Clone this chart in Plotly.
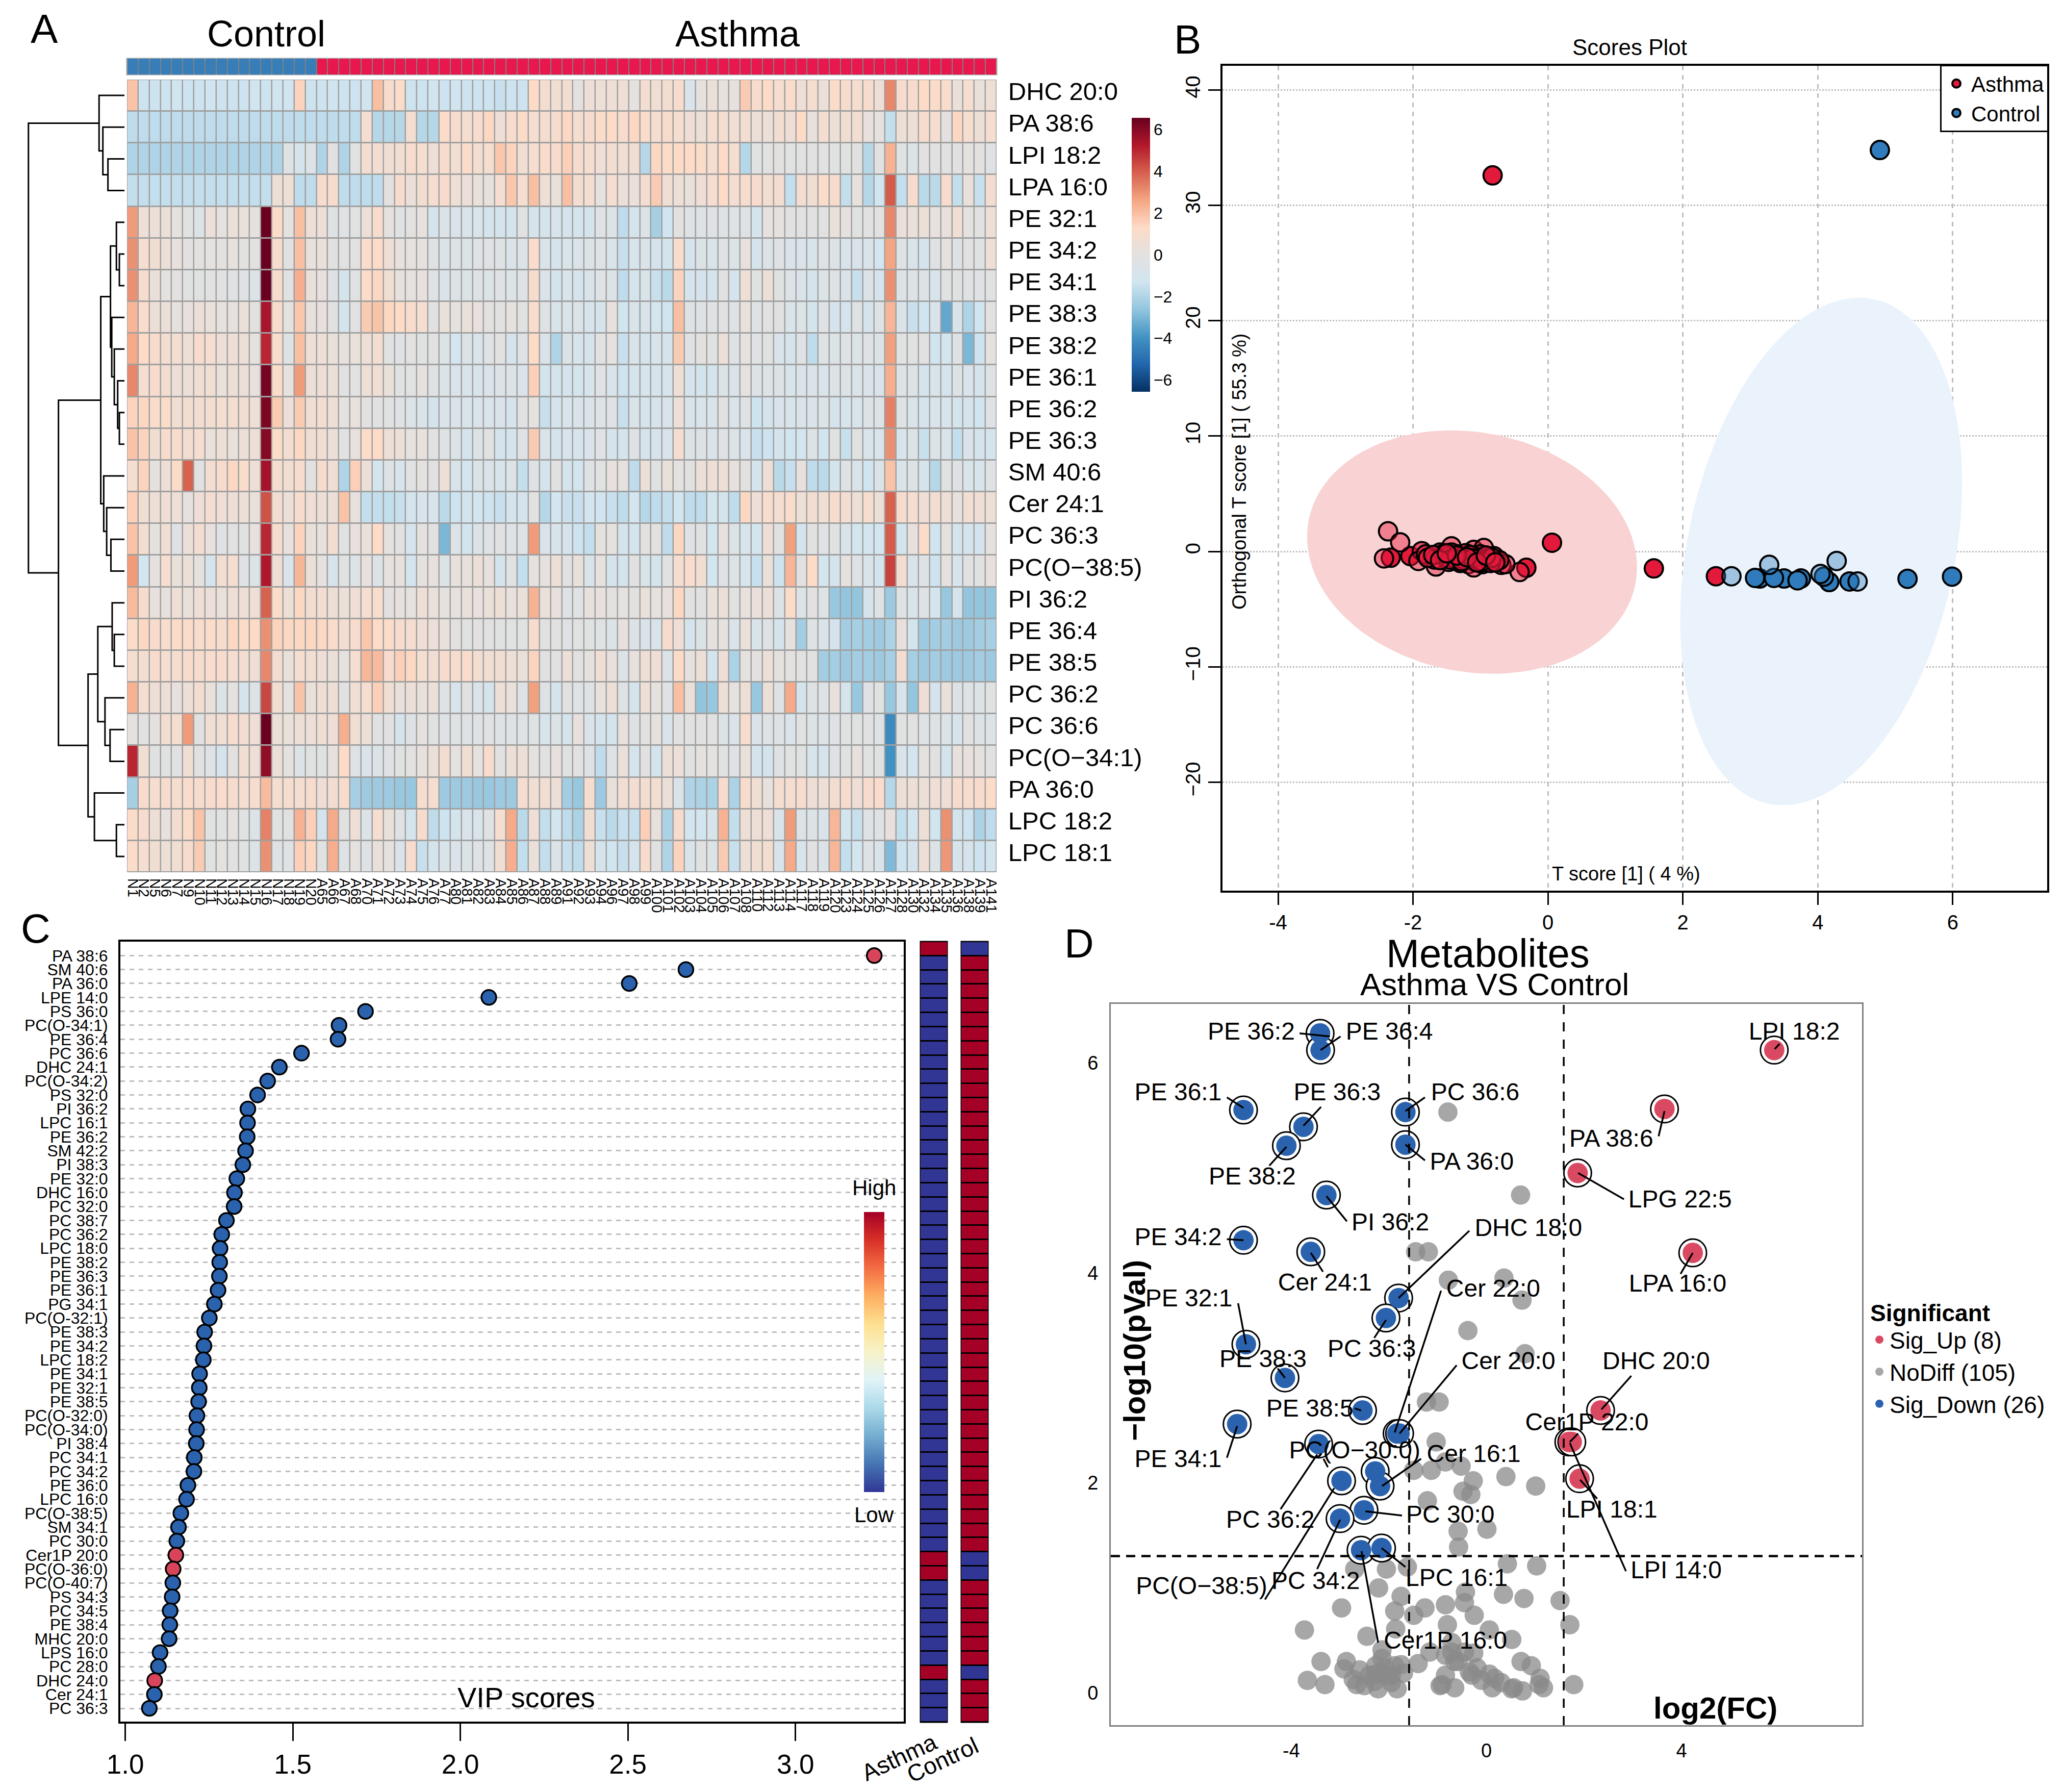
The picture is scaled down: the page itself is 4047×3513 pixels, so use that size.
import plotly.graph_objects as go

W, H = 4047, 3513
OFF = 8  # the page body adds this much on the left and top
FONT = "Liberation Sans"

# ---------- panel A : heatmap ----------
row_names = ["DHC 20:0", "PA 38:6", "LPI 18:2", "LPA 16:0", "PE 32:1", "PE 34:2", "PE 34:1", "PE 38:3", "PE 38:2",
             "PE 36:1", "PE 36:2", "PE 36:3", "SM 40:6", "Cer 24:1", "PC 36:3", "PC(O\u221238:5)", "PI 36:2", "PE 36:4",
             "PE 38:5", "PC 36:2", "PC 36:6", "PC(O\u221234:1)", "PA 36:0", "LPC 18:2", "LPC 18:1"]

control_ids = [1, 2, 5, 6, 7, 9, 10, 11, 12, 13, 14, 15, 16, 17, 18, 19, 20]
asthma_ids = [65, 66, 67, 68, 70, 71, 72, 73, 74, 75, 76, 77, 80, 81, 82, 83, 84, 85, 86, 87, 88, 89,
              91, 92, 93, 94, 96, 97, 98, 99, 100, 101, 102, 103, 104, 105, 106, 107, 108,
              110, 112, 113, 114, 117, 118, 119, 120, 123, 124, 125, 126, 127, 128,
              130, 132, 134, 135, 136, 138, 139, 141]

r_dhc200 = [1.9,-1.4,-1.4,-1.4,-1.3,-1.4,-1.4,-1.3,-1.4,-1.4,-1.4,-1.3,-1.4,-1.3,-1.3,1.5,-1.4,-1.4,-1.3,-1.4,-1.4,-1.3,2.0,1.0,1.2,-1.4,-1.4,-1.3,-1.4,-1.3,-1.4,-1.4,-1.4,-1.5,-1.4,-1.4,1.3,.8,.7,.8,0,.6,.5,.6,
            .6,.1,.8,.7,.8,1,-.8,.1,.4,.2,.2,1.7,1,1.3,.9,1.1,.6,.9,.4,1.2,1,.9,1,.6,3.2,1,1,1.3,1.2,1.1,.3,.9,.3,.6]
r_pa386 = [-1.7,-1.7,-1.7,-1.7,-1.7,-1.7,-1.7,-1.7,-1.7,-1.7,-1.7,-1.7,-1.7,-1.7,-1.7,-1.7,-1.7,-1.7,-1.7,-1.7,-1.7,.9,-1.9,-1.9,-1.9,.8,-1.9,-1.9,1.2,1,.9,1,1.4,.5,1,1.2,.9,.8,1,1.4,.9,1,1.2,1.3,
           1,1.4,1.1,.9,1,.9,.6,.4,.9,.9,.7,.8,.4,.4,.8,.6,1.3,.2,.8,.5,.7,.8,.2,.1,-1.6,.5,.5,1,.9,0,1.4,.9,.5,.9]
r_lpi182 = [-2,-2,-2,-2,-2,-2,-2,-2,-2,-2,-2,-2,-2,-2,-.3,-1,-.5,-2,-.1,-2,-.2,.8,.8,.7,.7,1,.9,.6,1,.7,1.2,.8,.9,1.8,1.5,.7,.9,1.1,1,1.6,1,.9,.6,.8,
            .7,.7,-1.9,1.4,1.2,1.3,1.3,1.2,.9,1.3,.9,-1.9,-.2,-.1,0,-.2,-.1,-.2,-.1,-.2,-.2,-.1,-1.9,-.1,2.3,-.2,-.5,-.1,-.1,-.1,-.1,.1,0,-.3]
r_lpa160 = [-1.6,-1.6,-1.6,-1.6,-1.6,-1.6,-1.6,-1.6,-1.6,-1.6,-1.6,-1.6,-1.6,.5,.5,-1.7,-1.7,1,1,-1.7,-1.7,-1.7,-1.7,0,1,.4,.8,.9,1,.6,.4,.3,.2,.9,1.8,.9,2,.5,.3,2,.8,.9,.1,.9,
            .4,.4,.8,1.7,.7,.5,.3,.6,.9,1.3,.8,1,1,.8,.8,-1.6,.8,.7,1.2,1,-1.6,.2,-1.9,-1.3,4,-1.6,1,-1.8,-1.8,1,-1.6,.3,-1.5,.8]
r_pe321 = [2.8,.6,.4,.4,.1,-.2,-.5,.4,.1,.4,.3,.1,6.5,1.2,.1,2,.5,.5,-.3,-.3,-.2,.4,1,.1,-.3,0,.2,-1,-.5,-.7,-.8,-.8,-1.1,-1,-1.1,-.2,-1,-1.1,-.9,-1,-1.1,-1,-.4,-.5,
           -1.7,-1,-.5,-2.2,-1.3,0,-.4,-.4,-.4,-.4,-.4,-.3,-1,.1,.1,-.1,-.1,-.2,-.1,.3,.1,-.2,-.1,0,3.2,.4,.3,.4,.2,.2,.7,.1,-.1,.5]
r_pe342 = [3,.9,.7,.4,.2,0,0,.1,0,.2,0,-.1,6.5,1,-.1,2,.2,.3,-.1,-.1,0,1.1,1.3,.6,.2,.1,.1,-.3,-.5,-.6,-.6,-.4,-.3,-.3,-.7,-.6,1.1,-.7,-1,-.8,-.7,-.6,-.3,-.8,
           -1.5,-.9,-.7,-1,-1.1,1.1,-1,-.6,-.8,-.4,-.6,.2,-1,-.5,-.4,-.8,-.7,-.8,-.3,-.5,-.8,-.7,-.7,-1.2,2.6,-.4,-.8,-1,-.4,.1,-.3,-.1,-.3,.6]
r_pe341 = [3,1,.3,.1,0,-.2,-.2,-.1,-.1,-.3,-.4,-.5,6.5,1,-.1,2.4,.3,.2,-.3,-1,-.2,1.2,1.4,.7,.2,.1,.2,-.3,-.7,-.6,-.6,-.3,-.6,-.4,-.5,-.4,1,-.7,-1.1,-.8,-1,-.8,-.4,-.6,
           -1.7,-1,-.8,-1.5,-1.8,1.5,-1,-1,-1,-.2,-1,.5,-.2,.4,-.2,-.6,-.7,-1,-.5,-.4,-.7,-1.5,-.5,-1,3,-.6,-.6,-.6,-.9,-.2,-.2,-.3,-.3,-.2]
r_pe383 = [2.2,1.1,.4,.4,.1,.2,.4,.3,.1,.2,.3,0,5.4,1.1,.1,1.8,.2,.2,-.1,-1.1,-.1,1.7,1.9,1.4,1.3,1,.9,-.1,.3,.1,.3,.2,0,-.1,.1,-.1,1.1,-.3,-.8,-.8,-.5,-.9,-1,.2,
           -1.3,-.8,-.8,-1.2,-1.3,2,-.3,-.3,-.3,-.1,-.4,.3,-.4,-.1,-.1,-.8,-.5,-1.1,-.3,-1,-1,-.3,-1,-.4,2.2,-.7,-1.5,-1.3,-.8,-3.4,-.9,-2,-1.3,0]
r_pe382 = [2.5,1.3,1,.8,.8,.5,1,.9,.5,.5,.5,.1,5,1.1,-.4,2,.5,.5,.3,.2,.3,.5,.8,-.2,-.3,0,-.2,-.1,-.6,-1.2,-.5,-.8,-.4,-.1,-1,-.4,1.3,-.7,-2,-.5,-.9,-1,-.2,.1,
           -1.5,-.7,-1,-.9,-1,1.7,-.4,0,-.2,.4,-.3,.1,-.3,-.2,-.7,-1,-.3,-1.7,-.4,-.6,-.3,-.5,-.4,-.5,2.7,-.2,-.2,-.1,-1.3,-1.2,-.3,-3,-1.4,.1]
r_pe361 = [3.2,.9,1,.8,.5,.4,.7,.7,.3,.5,.4,.2,6.3,1.2,.2,2.8,.4,.6,.4,-.1,-.1,.5,.7,.3,-.2,-.2,.1,-.3,-.5,-.8,-.8,-.9,-.7,-.6,-.6,-.7,1.6,-1.1,-1,-1,-1.1,-.9,-.3,-.9,
           -1.4,-1,-.9,-1,-.9,.6,-1,-1.1,-1.1,-.6,-.7,.1,-.6,-.5,-.6,-.9,-.7,-.7,-.8,-.5,-.5,-.7,-.7,-.8,2.4,-.6,-.5,-1,-.8,-1,-.5,-.8,-1,-.3]
r_pe362 = [1.5,1.4,1.1,1.2,.7,.8,.8,.8,.9,.9,.7,.5,6.2,1.7,.4,1.7,.7,.8,.5,.1,.2,0,-.1,-.2,-.4,-.5,-.7,-1,-.7,-.7,-.8,-.7,-.8,-.7,-1,-.1,.1,-1.5,-1,-.9,-.8,-.7,-.5,-.3,
           -1.5,-.8,-1,-1,-.8,.4,-.8,-.8,-.7,-.1,-.8,-.3,-1.4,-1,-.8,-.9,-.7,-.7,-.5,-1,-.9,-.8,-.6,-.5,3.3,-.3,-.8,-1,-.8,-.9,-1.1,-1,-1.3,-.4]
r_pe363 = [1.9,1.5,.7,1,1,.8,.9,.3,.5,.3,.4,.5,6,1.2,.8,1.4,.7,.7,.4,-.2,.2,1.2,1.3,.4,.4,.1,.2,-.1,-.4,-.5,-1,-.5,-.2,-1,-1,-.4,1.7,-.7,-1,-.9,-.9,-.7,-.4,-1,
           -1,-.4,-1,-1,-.8,.8,-.5,-.6,-.7,-.4,-.5,-.8,-1.5,-1.4,-1,-1.3,-1.2,-.5,-1.3,-.2,-1.5,-.2,-.8,-.8,3,-.9,-.5,-1.5,-.5,-.8,-1.6,-.7,-1,-1]
r_sm406 = [.9,1.5,.1,.5,1.2,3.9,-.1,.8,1,1.4,1.1,.5,5.5,.9,.8,1,0,1,.6,-2,1.6,.4,-1.2,-.4,-.9,-.2,.1,-.1,.5,-.8,-1.2,-.6,-.7,-.9,-.5,-1.6,-.4,-1,-.1,-1,-1.3,-.4,-.2,.2,
           .1,-1.7,.4,-.2,.3,.1,-.1,.4,.6,.5,.2,0,-1,.5,-1.8,-1.5,.2,-1.7,-1.8,-1.1,-.4,-.7,-1.3,-.5,1.9,-.8,-.6,-1,-1.9,-.2,-.4,-.8,-.9,-.3]
r_cer241 = [1.6,.7,.5,.6,.5,.1,.6,.8,.6,.5,.5,.3,4.2,.8,.4,1,.6,.5,.4,1.9,.2,-1.6,-1.6,-1.6,-1.5,-1.1,-.9,-.9,-1.8,-1.4,-1.1,-1.2,-1.4,-1.5,-1.1,-1,-.1,-1.9,-1.2,-1.5,-1.5,-1.2,-1.3,-1.5,
            -1.7,-1.2,-1.9,-1.7,-1.6,-1.2,-1.7,-1.7,-1.2,-1.1,-1.7,1.4,.6,1.1,.9,1.1,.5,.8,.7,1,.8,.5,.9,.4,3.9,1,.9,.6,.8,.6,.2,.7,.6,.5]
r_pc363 = [1.9,.8,.1,.7,-.3,.4,.8,.2,-.3,-.1,-.1,.2,5,1,.2,1.5,.3,.2,.8,-.2,.2,.3,1.3,.1,-.1,-1,.1,-.1,-3,-.5,-1.3,-.6,-.4,-.1,-.3,-.3,2.8,-.7,-.8,-1,-1.4,-1.6,.1,.1,
           -1,-1.1,0,-.1,-1.7,1.4,-.3,-.2,-1.2,.2,-.5,-.9,-1.2,.6,-.1,2.7,-1.1,-.1,-.4,-.2,-.8,-1.2,-1.2,-1.2,4,-1.1,.2,1.2,-1.3,.1,-1.1,-1,-1,.1]
r_pco385 = [2.8,-1.2,.1,.9,.3,.4,.1,-1,.8,.9,-.4,-.5,5.3,.6,-.7,2.2,.4,.1,-.9,-.2,-.5,.2,-.5,.2,.2,-1.1,.1,.2,-.6,.2,.2,.4,.2,-1.1,-.2,-1.6,.1,.1,.5,-.1,.3,-.8,.1,-1,
            -1.1,-.1,-.8,-1.1,-.1,.9,1.1,.7,-1.2,-.3,-.5,-.9,-1.5,.3,-1.4,2.2,-.1,1.3,-1.2,-1,.1,-.3,-.8,-1.1,4.5,.8,-.8,-.4,-1.4,.1,-.9,-.2,-.1,.2]
r_pi362 = [2.1,1,.2,.2,.6,.3,.6,.4,.3,.6,.6,.6,3.9,1.2,.4,1.4,.8,.8,.5,.4,.6,.9,1.1,0,.2,.1,.6,.3,.1,.2,.3,.2,.3,.5,.2,.3,2.3,.3,.2,-.3,-.3,.2,.2,0,
           .1,0,.3,.1,.2,1.4,0,-.1,.3,.4,-.1,.2,.3,.4,-.6,1.2,-.6,-.1,-.5,-2.5,-2.6,-2.6,-1,-.4,-2.4,-.3,-.8,-.4,-1.2,-2.5,-1,-2.6,-2.6,-2.6]
r_pe364 = [1.2,1.4,1,1.1,1.2,1.2,1.1,1.2,1,1.4,1.2,1.3,3,1.5,1.4,1.4,1.4,1.4,1.1,.8,1,1.8,1.3,1.2,1,.8,.6,.4,.3,0,-.2,0,-.2,-.2,-.2,-.2,1,-.1,-.2,-.4,-.2,-.2,-.3,-.5,
           .2,-.5,-.7,-.8,1,.6,-1,-.5,.1,.1,-.7,.3,-.8,-.4,-1,.1,-2.3,-.4,-.7,-1,-2.3,-2.2,-2.3,-2.4,-2.1,.2,-1.1,-2.4,-2.3,-2.3,-2.4,-2.4,-2.3,-2.2]
r_pe385 = [.9,.8,1,.9,.9,1,1,1.1,1,.9,.8,.6,3.2,.8,.3,.9,.7,.6,.4,.1,.9,2.2,2.1,1,1.6,1.4,.9,.7,1,1,1.1,.8,.7,.7,.5,.3,1.5,-.1,-.1,.4,-.1,.1,.7,.2,
           -.5,.2,.6,.6,-.6,1.3,.1,.5,-1.1,.6,-2.1,.1,0,.4,.1,0,-.1,-.1,-2.3,-2.3,-2.4,-2.3,-2.3,-2.4,-2.2,.8,-2.2,-2.4,-2.3,-2.4,-2.4,-2.4,-2.3,-2.4]
r_pc362 = [2.3,.9,.6,.5,.2,.5,.8,.3,-.5,.1,-1,-.4,4.4,.8,.1,1.9,.3,.6,.5,-.1,.7,.9,1.6,.7,.3,.4,.3,.4,-.3,-.9,-.1,-.7,-1,.5,.3,-.3,2.7,-.3,-1,-.1,-.4,-.3,.2,.5,
           -.3,-1,.5,.1,-.3,2,.3,-2.6,-2.5,.5,.1,.5,-2.5,.4,-.3,2.5,-1,-.4,-.4,.2,-1,-2.5,-.3,-.2,-2.5,-.9,-2.6,.6,-1,.3,-.4,-.4,-.5,-.2]
r_pc366 = [.1,-.1,.1,.8,.9,2.8,-.1,.7,.7,1,.8,.6,6.5,.4,.3,.5,.5,.7,.6,2.4,.7,.5,-.2,-.1,-1,-.4,.1,-.2,-.3,-.3,-.4,-.3,-.3,-.3,-.3,-.4,-.3,-.9,-.6,-1,.2,-.7,-1,-1,
           .2,-.3,-.1,.1,-.7,-.1,0,-.1,-.1,-.5,-.7,1,-.7,-.4,-.4,-.7,-.2,-.6,-.6,-.4,-.2,-.2,-.1,-.3,-4.2,-.2,-.1,-.4,-.4,-.6,-.9,-.1,-.5,-.6]
r_pco341 = [5,.7,-.2,-.2,-.1,.7,-.1,-.4,-1,0,.7,.6,5.8,.4,.1,-.5,-.2,-.2,.2,1.3,-.4,-.7,-.6,-.3,-.2,0,.2,.4,.8,.1,.7,.1,1,-.1,.4,.4,.1,-.1,.2,-.2,-.1,-.4,-1.7,-.4,
            .3,-1,-.1,-1.1,.4,.4,-.2,.1,.1,-.2,-.3,.3,-1,-1.1,-.3,-.2,-.2,-.9,-1,-.3,-.2,.2,-.2,-.2,-4,-.8,-1.2,.1,-.1,-1.1,.2,.2,.1,-.2]
r_pa360 = [-2.2,1,.9,1,.9,1.1,1,1,1.1,1,.9,.9,2.1,.9,.9,.9,1,.6,.8,1,-2.2,-2.4,-2.4,-2.4,-2.5,-2.5,.9,.9,-2.4,-2.4,-2.4,-2.5,-2.5,-2.4,-2.4,.9,.7,.7,.5,-2.3,-2.5,.9,-2.4,.3,
           .7,.8,.8,.8,.4,-.7,-2,-2.1,-2.1,1,-2.1,1,.7,.2,.9,.9,1,.6,.6,.8,1,.6,1,1.1,-1.9,.5,.4,.4,.6,.6,1,1,1,1.2]
r_lpc182 = [1.2,1,.5,.2,.8,1.2,1.9,-.2,-.2,.1,-.2,-.5,3.3,-.2,-.1,2.3,1.6,-1,2.5,-.1,.5,-.5,.9,.3,-.3,-1.1,1,-1.7,-1.4,-1.1,-.7,-.8,-.4,.9,2.5,-1.8,.6,-1.6,-1.2,-1.7,-2.1,.7,-1.5,-1.8,
            -1.5,-1.5,1.6,.2,-2.1,1,-1.2,-1.2,-.8,2.3,-1.6,.5,.6,.6,-.8,2.8,-.6,-.6,-.7,2.2,-1.2,-1.5,-.3,-.3,.2,-1.6,-1.2,.5,-1.3,3,-1.1,-1.4,-2.1,-1.7]
r_lpc181 = [1.2,.9,.7,.5,.7,1,1.7,-.2,.1,-.1,-.2,-.5,3,-.4,-.3,1.6,1.4,-.2,2.4,-.3,.1,-.4,.3,.1,-.7,1,-1.5,-1,-.8,-.7,-.5,-.4,-.3,.7,2.4,-1.6,.3,-1.6,-.6,-1.5,-1.7,.5,-1,-1.3,
            -1.5,-1,1,-.1,-2,1.5,-.8,-.2,-.5,1.7,-1.5,.5,.7,.8,-.9,2.5,-.9,-.1,-.6,2.2,-1.6,-1.2,-.3,-.8,-2.9,-1.4,-1,.6,-.6,2.9,-.9,-1,-1.4,-1.2]

heat_rows = [r_dhc200, r_pa386, r_lpi182, r_lpa160, r_pe321, r_pe342, r_pe341, r_pe383, r_pe382, r_pe361, r_pe362, r_pe363,
             r_sm406, r_cer241, r_pc363, r_pco385, r_pi362, r_pe364, r_pe385, r_pc362, r_pc366, r_pco341, r_pa360, r_lpc182, r_lpc181]

# dendrogram: (distance, left, right), leaves are row numbers
dendro_tree = (22.7,
    (6.0, 0, (5.1, 1, (3.9, 2, 3))),
    (15.6,
     (5.6,
      (3.3, (1.9, 4, (1.2, 5, 6)),
       (3.0, 7, (2.4, 8, (1.6, 9, (1.2, 10, 11))))),
      (4.9, 12, (4.2, 13, (3.2, 14, 15)))),
     (8.6,
      (6.3, (2.9, 16, (2.4, 17, 18)), (4.6, 19, (3.4, 20, 21))),
      (7.1, 22, (1.9, 23, 24)))))

# ---------- panel B : scores plot ----------
asthma_t = [.06, 1.57, 2.49, -.32, -2.04, -2.33, -.82, -2.37, -2.19, -2.43, -.42, -1.87, -1.92, -1.66, -1.43, -1.6, -1.35, -1.35,
            -1.1, -.95, -1.12, -.88, -.69, -.8, -1.0, -1.18, -1.52, -1.81, -1.26, -1.1, -.76, -.97, -.63, -1.43, -1.68, -1.3, -1.05,
            -.9, -1.22, -1.47, -1.78, -.72, -1.0, -1.15, -1.38, -.85, -1.55, -1.25,
            -1.7, -1.45, -1.28, -1.12, -.98, -.83, -1.6, -1.35, -1.2, -1.05, -.92, -.78, -1.5]
asthma_o = [.76, -1.47, -2.15, -1.41, -.4, -.54, 32.6, 1.75, .79, -.6, -1.78, .03, -.82, -1.3, .45, -.1, -.82, -.25,
            .14, .3, -.82, -.82, -1.16, -.4, -.25, -1.1, -.54, -.25, -.4, -1.38, -.82, -1.1, -1.1, -.1, -.7, -1.0, -.5,
            -.6, -.15, -.9, -.55, -.75, -.95, -.3, -.6, -1.0, -.2, -.7,
            -.3, -.7, -.85, -.6, -.85, -.55, -.75, -.35, -.5, -.95, -.35, -.95, -.15]
asthma_alpha = [1, 1, 1, 1, 1, 1, 1, .45, .45, .45, .45, .7, .45, .45, .5, .5, 1, .7,
                .6, .5, .7, .6, .6, .7, .7, .5, .6, .7, .8, .5, .7, .7, .5, .6, .6, .8, .7,
                .7, .6, .7, .7, .6, .7, .7, .8, .7, .6, .8,
                .7, .7, .7, .7, .7, .7, .7, .7, .7, .7, .7, .7, .7]
control_t = [5.99, 5.33, 3.14, 3.5, 3.75, 3.35, 4.47, 4.17, 4.09, 3.7, 4.92, 2.72, 3.28, 4.28, 4.59, 4.04, 3.07]
control_o = [-2.18, -2.37, -2.34, -2.34, -2.34, -2.29, -2.6, -2.65, -2.18, -2.5, 34.8, -2.15, -1.16, -.82, -2.6, -1.95, -2.29]
control_alpha = [1, 1, 1, 1, 1, 1, 1, 1, 1, 1, 1, .4, .4, .4, .4, .4, 1]

# hotelling ellipses: centre x, centre y, half width, half height, correlation
ellipse_asthma = (-1.125, -.05, 2.445, 10.55, -.125)
ellipse_control = (4.05, 0.0, 2.09, 22.0, .27)

# ---------- panel C : VIP ----------
vip_names = ["PA 38:6", "SM 40:6", "PA 36:0", "LPE 14:0", "PS 36:0", "PC(O-34:1)", "PE 36:4", "PC 36:6", "DHC 24:1", "PC(O-34:2)",
             "PS 32:0", "PI 36:2", "LPC 16:1", "PE 36:2", "SM 42:2", "PI 38:3", "PE 32:0", "DHC 16:0", "PC 32:0", "PC 38:7",
             "PC 36:2", "LPC 18:0", "PE 38:2", "PE 36:3", "PE 36:1", "PG 34:1", "PC(O-32:1)", "PE 38:3", "PE 34:2", "LPC 18:2",
             "PE 34:1", "PE 32:1", "PE 38:5", "PC(O-32:0)", "PC(O-34:0)", "PI 38:4", "PC 34:1", "PC 34:2", "PE 36:0", "LPC 16:0",
             "PC(O-38:5)", "SM 34:1", "PC 30:0", "Cer1P 20:0", "PC(O-36:0)", "PC(O-40:7)", "PS 34:3", "PC 34:5", "PE 38:4", "MHC 20:0",
             "LPS 16:0", "PC 28:0", "DHC 24:0", "Cer 24:1", "PC 36:3"]
vip_scores = [3.235, 2.673, 2.504, 2.085, 1.717, 1.638, 1.635, 1.526, 1.46, 1.425, 1.395, 1.366, 1.365, 1.364, 1.359, 1.351,
              1.333, 1.326, 1.325, 1.302, 1.288, 1.283, 1.282, 1.281, 1.277, 1.266, 1.251, 1.237, 1.235, 1.233, 1.222, 1.221,
              1.219, 1.214, 1.213, 1.212, 1.206, 1.205, 1.187, 1.183, 1.166, 1.159, 1.154, 1.151, 1.143, 1.142, 1.14, 1.134,
              1.133, 1.131, 1.104, 1.099, 1.088, 1.087, 1.072]
vip_up = ["PA 38:6", "Cer1P 20:0", "PC(O-36:0)", "DHC 24:0"]
strip_up_rows = [0, 43, 44, 51]  # rows where Asthma is high in the two strips

# ---------- panel D : volcano ----------
up_fc = [5.90, 3.65, 1.87, 4.23, 2.34, 1.69, 1.75, 1.91]
up_p = [6.12, 5.56, 4.95, 4.19, 2.69, 2.39, 2.39, 2.04]
down_fc = [-3.41, -3.40, -4.98, -3.75, -4.10, -1.66, -1.66, -3.28, -4.98, -3.60, -1.80, -2.06, -4.93, -4.13, -2.54, -5.11,
           -1.83, -1.78, -3.44, -2.28, -2.18, -2.97, -2.51, -3.0, -2.57, -2.15]
down_p = [6.28, 6.12, 5.55, 5.39, 5.21, 5.53, 5.22, 4.74, 4.31, 4.20, 3.76, 3.57, 3.32, 3.00, 2.69, 2.56,
          2.47, 2.47, 2.37, 2.11, 1.97, 2.02, 1.74, 1.66, 1.36, 1.38]
none_fc = [-.79, .70, -1.45, -1.19, -.78, .36, .73, -.38, .79, -1.23, -.97, -1.03, -1.49, -1.13, -.84, -.52, .40, 1.01, -.27, -.48,
           -.32, -1.21, -.58, .01, -.57, .43, 1.03, -2.7, -2.05, -1.62, -2.21, -1.75, -.43, .35, .77, 1.51, -2.97, -1.88, -1.26, -.84,
           -.45, -1.49, -.25, 1.71, -3.73, -1.86, -.8, -2.45, .06, .52, -.71, -3.39, -2.87, -2.92, -3.67, -3.31, -2.66, -2.22, -1.83, -2.27,
           -2.14, -2.08, -1.88, -2.01, -1.95, -2.27, -2.14, -1.75, -1.16, -.84, -.58, -.26, -.19, -.3, .06, .17, -.84, -.95, -.65, .12,
           .52, .74, 1.17, 1.1, .71, .92, 1.79, -.65, -2.4, -.71, -.45, -2.14, -1.95, -2.3, -2.73, .56, 1.08, -.91, -.35, -2.6, -1.4, -.1, .3, -1.7, -2.5]
none_p = [5.53, 4.74, 4.2, 4.2, 3.93, 3.95, 3.74, 3.45, 3.23, 2.77, 2.77, 2.39, 2.12, 2.12, 2.2, 2.16, 2.06, 1.97, 2.02, 1.92,
          1.89, 1.83, 1.54, 1.56, 1.39, 1.23, 1.21, 1.18, 1.18, 1.2, 1.0, .92, .96, .94, .9, .88, .81, .78, .81, .84,
          .86, .74, .74, .65, .6, .61, .65, .54, .6, .51, .48, .3, .3, .23, .12, .08, .08, .04, .04, .26,
          .33, .24, .26, .16, .1, .18, .41, .27, .39, .36, .3, .38, .24, .17, .18, .14, .17, .07, .05, .05,
          .04, .02, .05, .14, .3, .26, .08, .3, .17, .39, .39, .18, .17, .11, .13, .05, .08, .08, .2, .22, .28, .12, .1, .19, .07]
thresh_fc = 1.585
thresh_p = 1.304

# label, text x, text y, leader start x, y, leader end x, y
volcano_labels = [
    ("PE 36:2", -4.82, 6.28, -3.83, 6.28, -3.21, 6.25), ("PE 36:4", -1.99, 6.28, -2.99, 6.25, -3.40, 6.12),
    ("PE 36:1", -6.32, 5.70, -5.32, 5.67, -4.98, 5.57), ("PE 36:3", -3.06, 5.70, -3.39, 5.58, -3.75, 5.40),
    ("PC 36:6", -.23, 5.70, -1.26, 5.67, -1.66, 5.54), ("PA 38:6", 2.56, 5.26, 3.53, 5.30, 3.65, 5.54),
    ("LPI 18:2", 6.31, 6.28, 6.01, 6.18, 5.91, 6.13), ("PA 36:0", -.30, 5.04, -1.26, 5.07, -1.66, 5.22),
    ("PE 38:2", -4.80, 4.90, -4.45, 5.02, -4.10, 5.20), ("LPG 22:5", 3.97, 4.68, 2.82, 4.70, 1.88, 4.95),
    ("PI 36:2", -1.97, 4.46, -2.86, 4.49, -3.28, 4.73), ("DHC 18:0", .86, 4.41, -.35, 4.40, -1.80, 3.76),
    ("PE 34:2", -6.32, 4.32, -5.32, 4.32, -4.98, 4.31), ("Cer 24:1", -3.31, 3.89, -3.35, 4.01, -3.60, 4.19),
    ("LPA 16:0", 3.92, 3.88, 3.98, 3.99, 4.23, 4.19), ("Cer 22:0", .14, 3.83, -.93, 3.83, -1.88, 2.48),
    ("PE 32:1", -6.10, 3.74, -5.09, 3.71, -4.93, 3.32), ("PE 38:3", -4.58, 3.16, -4.28, 3.09, -4.13, 3.0),
    ("PC 36:3", -2.35, 3.26, -2.30, 3.38, -2.06, 3.55), ("Cer 20:0", .45, 3.14, -.61, 3.12, -1.78, 2.47),
    ("DHC 20:0", 3.48, 3.14, 2.97, 3.02, 2.36, 2.70), ("PE 38:5", -3.62, 2.69, -2.70, 2.71, -2.57, 2.69),
    ("Cer1P 22:0", 2.06, 2.56, 1.88, 2.47, 1.71, 2.39), ("PE 34:1", -6.32, 2.21, -5.32, 2.24, -5.11, 2.54),
    ("PC(O\u221230:0)", -2.70, 2.29, -3.34, 2.23, -3.25, 2.15), ("Cer 16:1", -.26, 2.26, -1.34, 2.23, -2.14, 1.97),
    ("PC 36:2", -4.43, 1.63, -4.22, 1.75, -3.47, 2.27), ("PC 30:0", -.74, 1.68, -1.73, 1.69, -2.48, 1.73),
    ("LPI 18:1", 2.57, 1.73, 2.27, 1.85, 1.92, 2.03), ("LPI 14:0", 3.89, 1.15, 2.86, 1.16, 1.71, 2.38),
    ("LPC 16:1", -.61, 1.08, -1.66, 1.2, -2.15, 1.38), ("PC 34:2", -3.50, 1.05, -3.47, 1.18, -3.0, 1.65),
    ("PC(O\u221238:5)", -5.84, 1.0, -4.54, .89, -3.12, 1.95), ("Cer1P 16:0", -.84, .48, -2.22, .48, -2.56, 1.35),
]


def px_x(a):
    return (a - OFF) / W


def px_y(a):
    return 1 - (a - OFF) / H


def dx(a, b):
    return [px_x(a), px_x(b)]


def dy(a, b):
    return [px_y(b), px_y(a)]


def text(x, y, s, size, angle=0, bold=False, color="black"):
    fig.add_annotation(x=px_x(x), y=px_y(y), xref="paper", yref="paper", text="<b>%s</b>" % s if bold else s,
                       showarrow=False, textangle=angle, font=dict(family=FONT, size=size, color=color),
                       xanchor="center", yanchor="middle")


fig = go.Figure()

# ---- A
sample_labels = ["N%d" % i for i in control_ids] + ["A%d" % i for i in asthma_ids]
heat_scale = [[0, "#053061"], [.1, "#2166AC"], [.2, "#4393C3"], [.3, "#92C5DE"], [.4, "#D1E5F0"], [.5, "#E3E1E0"],
              [.6, "#FDDBC7"], [.7, "#F4A582"], [.8, "#D6604D"], [.9, "#B2182B"], [1, "#67001F"]]
fig.add_trace(go.Heatmap(z=heat_rows, x=sample_labels, y=row_names, colorscale=heat_scale, zmin=-6.56, zmax=6.56,
                         xgap=2.5, ygap=3, xaxis="x", yaxis="y", hoverongaps=False,
                         colorbar=dict(x=px_x(2219), xanchor="left", xpad=0, ypad=0, thickness=36, len=537, lenmode="pixels",
                                       y=px_y(231 + 537 / 2), yanchor="middle", outlinewidth=0, tickvals=[-6, -4, -2, 0, 2, 4, 6],
                                       ticks="", tickfont=dict(family=FONT, size=32), ticklabelposition="outside")))
group_z = [[0] * len(control_ids) + [1] * len(asthma_ids)]
fig.add_trace(go.Heatmap(z=group_z, colorscale=[[0, "#377EB8"], [1, "#E8174E"]], showscale=False, xgap=2, ygap=0,
                         xaxis="x2", yaxis="y2"))

seg_x, seg_y = [], []


def walk(node):
    if not isinstance(node, tuple):
        return node, 0.0
    d, a, b = node
    ya, da = walk(a)
    yb, db = walk(b)
    seg_x.extend([da, d, d, db, None])
    seg_y.extend([ya, ya, yb, yb, None])
    return (ya + yb) / 2, d


walk(dendro_tree)
fig.add_trace(go.Scatter(x=seg_x, y=seg_y, mode="lines", line=dict(color="black", width=3), showlegend=False,
                         xaxis="x3", yaxis="y3", hoverinfo="skip"))

# ---- B
def ellipse(params, n=120):
    import math
    cx, cy, rx, ry, rho = params
    phi = math.acos(rho)
    ts = [2 * math.pi * i / n for i in range(n + 1)]
    return [cx + rx * math.cos(t) for t in ts], [cy + ry * math.cos(t - phi) for t in ts]


ex, ey = ellipse(ellipse_asthma)
fig.add_trace(go.Scatter(x=ex, y=ey, mode="lines", fill="toself", fillcolor="#F9D2D3", line=dict(width=0), showlegend=False,
                         xaxis="x4", yaxis="y4", hoverinfo="skip"))
ex, ey = ellipse(ellipse_control)
fig.add_trace(go.Scatter(x=ex, y=ey, mode="lines", fill="toself", fillcolor="#EAF3FB", line=dict(width=0), showlegend=False,
                         xaxis="x4", yaxis="y4", hoverinfo="skip"))
fig.add_trace(go.Scatter(x=asthma_t, y=asthma_o, mode="markers", name="Asthma", legend="legend", xaxis="x4", yaxis="y4",
                         marker=dict(size=36, color=["rgba(228,26,60,%s)" % a for a in asthma_alpha],
                                     line=dict(color="black", width=4))))
fig.add_trace(go.Scatter(x=control_t, y=control_o, mode="markers", name="Control", legend="legend", xaxis="x4", yaxis="y4",
                         marker=dict(size=36, color=["rgba(47,123,187,%s)" % a for a in control_alpha],
                                     line=dict(color="black", width=4))))

# ---- C
vip_colors = ["#D8455B" if n in vip_up else "#2A62AE" for n in vip_names]
fig.add_trace(go.Scatter(x=vip_scores, y=vip_names, mode="markers", showlegend=False, xaxis="x5", yaxis="y5",
                         marker=dict(size=29, color=vip_colors, line=dict(color="black", width=3.5))))
strip_scale = [[0, "#313695"], [.1, "#4575B4"], [.2, "#74ADD1"], [.3, "#ABD9E9"], [.4, "#E0F3F8"], [.5, "#F7F2C8"],
               [.6, "#FEE090"], [.7, "#FDAE61"], [.8, "#F46D43"], [.9, "#D73027"], [1, "#A50026"]]
asthma_strip = [[1] if i in strip_up_rows else [0] for i in range(len(vip_names))]
control_strip = [[0] if i in strip_up_rows else [1] for i in range(len(vip_names))]
fig.add_trace(go.Heatmap(z=asthma_strip, colorscale=strip_scale, zmin=0, zmax=1, ygap=3, xaxis="x6", yaxis="y6",
                         colorbar=dict(x=px_x(1694), xanchor="left", xpad=0, ypad=0, thickness=40, len=549, lenmode="pixels",
                                       y=px_y(2376 + 549 / 2), yanchor="middle", outlinewidth=0, showticklabels=False, ticks="")))
fig.add_trace(go.Heatmap(z=control_strip, colorscale=strip_scale, zmin=0, zmax=1, ygap=3, showscale=False, xaxis="x7", yaxis="y7"))

# ---- D
fig.add_trace(go.Scatter(x=none_fc, y=none_p, mode="markers", name="NoDiff (105)", legend="legend2", legendrank=2, xaxis="x8", yaxis="y8",
                         marker=dict(size=38, color="rgb(138,138,138)", opacity=.75, line=dict(width=0))))
for fc, p, col, nm, rank in [(up_fc, up_p, "#D94A62", "Sig_Up (8)", 1), (down_fc, down_p, "#2A62AE", "Sig_Down (26)", 3)]:
    fig.add_trace(go.Scatter(x=fc, y=p, mode="markers", showlegend=False, xaxis="x8", yaxis="y8", hoverinfo="skip",
                             marker=dict(size=54, color="white", line=dict(color="black", width=3))))
    fig.add_trace(go.Scatter(x=fc, y=p, mode="markers", name=nm, legend="legend2", legendrank=rank, xaxis="x8", yaxis="y8",
                             marker=dict(size=40, color=col, line=dict(width=0))))
lead_x, lead_y = [], []
for lab in volcano_labels:
    lead_x.extend([lab[3], lab[5], None])
    lead_y.extend([lab[4], lab[6], None])
fig.add_trace(go.Scatter(x=lead_x, y=lead_y, mode="lines", line=dict(color="black", width=3.5), showlegend=False,
                         xaxis="x8", yaxis="y8", hoverinfo="skip"))
fig.add_trace(go.Scatter(x=[l[1] for l in volcano_labels], y=[l[2] for l in volcano_labels], text=[l[0] for l in volcano_labels],
                         mode="text", textposition="middle center", textfont=dict(family=FONT, size=48, color="black"),
                         showlegend=False, xaxis="x8", yaxis="y8", cliponaxis=False, hoverinfo="skip"))
for v in (-thresh_fc, thresh_fc):
    fig.add_shape(type="line", xref="x8", yref="y8 domain", x0=v, x1=v, y0=0, y1=1, line=dict(color="black", width=3.5, dash="18px,16px"))
fig.add_shape(type="line", xref="x8 domain", yref="y8", x0=0, x1=1, y0=thresh_p, y1=thresh_p, line=dict(color="black", width=4.5, dash="18px,12px"))

# grey cell borders, black strip separators
fig.add_shape(type="rect", xref="x domain", yref="y domain", x0=0, x1=1, y0=0, y1=1, layer="below", fillcolor="#A0A0A0", line=dict(width=0))
fig.add_shape(type="rect", xref="x2 domain", yref="y2 domain", x0=0, x1=1, y0=0, y1=1, layer="below", fillcolor="#808080", line=dict(color="#A0A0A0", width=3))
for ax in ("x6", "x7"):
    yy = "y" + ax[1:]
    fig.add_shape(type="rect", xref=ax + " domain", yref=yy + " domain", x0=0, x1=1, y0=0, y1=1, layer="below", fillcolor="black",
                  line=dict(color="black", width=3))

hidden = dict(visible=False, fixedrange=True)
gridb = dict(color="#BDBDBD", width=2.5)
tick_b = dict(family=FONT, size=40)
fig.update_layout(
    width=W, height=H, margin=dict(l=0, r=0, t=0, b=0, autoexpand=False), paper_bgcolor="white", plot_bgcolor="white",
    font=dict(family=FONT, color="black"),
    # A
    xaxis=dict(domain=dx(249, 1954), anchor="y", type="category", range=[-.5, 77.5], tickangle=90, tickmode="array", tickvals=sample_labels,
               tickfont=dict(family=FONT, size=29), ticks="outside", ticklen=5, tickcolor="rgba(0,0,0,0)", showgrid=False, zeroline=False),
    yaxis=dict(domain=dy(156, 1710), anchor="x", side="right", type="category", range=[24.5, -.5], tickmode="array", tickvals=row_names,
               tickfont=dict(family=FONT, size=49), ticks="outside", ticklen=12, tickcolor="rgba(0,0,0,0)", showgrid=False, zeroline=False,
               ticklabelshift=8),
    xaxis2=dict(domain=dx(249, 1954), anchor="y2", range=[-.5, 77.5], **hidden),
    yaxis2=dict(domain=dy(115, 146), anchor="x2", **hidden),
    xaxis3=dict(domain=dx(40, 244), anchor="y3", range=[24.6, 0], **hidden),
    yaxis3=dict(domain=dy(156, 1710), anchor="x3", range=[24.5, -.5], **hidden),
    # B
    xaxis4=dict(domain=dx(2397, 4014), anchor="y4", range=[-4.824, 7.4], tickvals=[-4, -2, 0, 2, 4, 6], ticktext=["-4", "-2", "0", "2", "4", "6"],
                showgrid=True, griddash="dash", gridcolor=gridb["color"], gridwidth=gridb["width"], zeroline=False, showline=True, mirror=True,
                linecolor="black", linewidth=4, ticks="outside", ticklen=24, tickwidth=3, tickcolor="black", tickfont=tick_b),
    yaxis4=dict(domain=dy(129, 1746), anchor="x4", range=[-29.4, 42.1], tickvals=[-20, -10, 0, 10, 20, 30, 40], tickangle=-90,
                showgrid=True, griddash="dot", gridcolor=gridb["color"], gridwidth=3, zeroline=False, showline=True, mirror=True,
                linecolor="black", linewidth=4, ticks="outside", ticklen=24, tickwidth=3, tickcolor="black", tickfont=tick_b),
    # C
    xaxis5=dict(domain=dx(236, 1772), anchor="y5", range=[.9855, 3.323], tickvals=[1, 1.5, 2, 2.5, 3], ticktext=["1.0", "1.5", "2.0", "2.5", "3.0"],
                showgrid=False, zeroline=False, showline=True, mirror=True, linecolor="black", linewidth=4, ticks="outside", ticklen=34, tickwidth=3,
                tickcolor="black", tickfont=dict(family=FONT, size=53)),
    yaxis5=dict(domain=dy(1846, 3375), anchor="x5", type="category", range=[54.95, -1.0], tickmode="array", tickvals=vip_names,
                showgrid=True, griddash="dash", gridcolor="#BDBDBD", gridwidth=2.5, zeroline=False, showline=True, mirror=True, linecolor="black", linewidth=4,
                ticks="outside", ticklen=14, tickcolor="rgba(0,0,0,0)", tickfont=dict(family=FONT, size=32)),
    xaxis6=dict(domain=dx(1805, 1857), anchor="y6", **hidden),
    yaxis6=dict(domain=dy(1846, 3376), anchor="x6", range=[54.5, -.5], **hidden),
    xaxis7=dict(domain=dx(1885, 1937), anchor="y7", **hidden),
    yaxis7=dict(domain=dy(1846, 3376), anchor="x7", range=[54.5, -.5], **hidden),
    # D
    xaxis8=dict(domain=dx(2178, 3651), anchor="y8", range=[-7.7, 7.7], tickvals=[-4, 0, 4], ticktext=["-4", "0", "4"], showgrid=False, zeroline=False,
                showline=True, mirror=True, linecolor="#808080", linewidth=3, ticks="outside", ticklen=14, tickcolor="rgba(0,0,0,0)",
                tickfont=dict(family=FONT, size=38)),
    yaxis8=dict(domain=dy(1968, 3382), anchor="x8", range=[-.306, 6.56], tickvals=[0, 2, 4, 6], showgrid=False, zeroline=False,
                showline=True, mirror=True, linecolor="#808080", linewidth=3, ticks="outside", ticklen=14, tickcolor="rgba(0,0,0,0)",
                tickfont=dict(family=FONT, size=38)),
    legend=dict(x=px_x(4017), xanchor="right", y=px_y(127), yanchor="top", bgcolor="white", bordercolor="black", borderwidth=3,
                font=dict(family=FONT, size=42), tracegroupgap=0, itemwidth=48),
    legend2=dict(x=px_x(3665), xanchor="left", y=px_y(2530), yanchor="top", bgcolor="rgba(0,0,0,0)", traceorder="normal",
                 title=dict(text="<b>Significant</b>", font=dict(family=FONT, size=46)), font=dict(family=FONT, size=46),
                 itemwidth=30),
)

# panel letters and free text
text(87, 57, "A", 80)
text(2328, 77, "B", 80)
text(70, 1820, "C", 80)
text(2116, 1850, "D", 80)
text(522, 66, "Control", 72)
text(1446, 66, "Asthma", 72)
text(3195, 93, "Scores Plot", 44)
text(2430, 925, "Orthogonal T score [1] ( 55.3 %)", 38, angle=-90)
text(3188, 1713, "T score [1] ( 4 %)", 38)
text(1032, 3327, "VIP scores", 56)
text(1714, 2328, "High", 42)
text(1714, 2969, "Low", 42)
text(1763, 3445, "Asthma", 46, angle=-25)
text(1848, 3450, "Control", 46, angle=-25)
text(2917, 1869, "Metabolites", 78)
text(2930, 1929, "Asthma VS Control", 62)
text(3363, 3348, "log2(FC)", 60, bold=True)
text(2224, 2648, "\u2212log10(pVal)", 60, angle=-90, bold=True)

fig.write_html("out.html")
